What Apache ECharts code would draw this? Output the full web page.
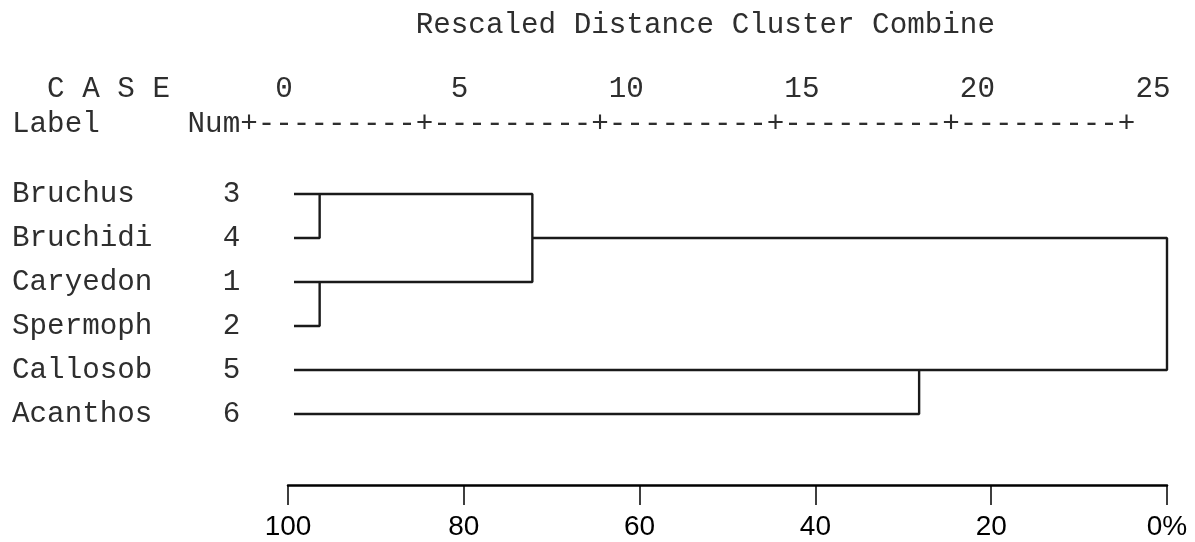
<!DOCTYPE html>
<html>
<head>
<meta charset="utf-8">
<script src="https://cdn.jsdelivr.net/npm/echarts@6/dist/echarts.min.js"></script>
<style>
  html, body { margin: 0; padding: 0; background: #fff; }
  #chart { width: 1195px; height: 542px; }
</style>
</head>
<body>
<div id="chart"></div>
<script>
// ---- data ----
const cases = ['Bruchus', 'Bruchidi', 'Caryedon', 'Spermoph', 'Callosob', 'Acanthos'];
const caseNums = [3, 4, 1, 2, 5, 6];
const titleText = 'Rescaled Distance Cluster Combine';
const topTicks = [0, 5, 10, 15, 20, 25];
const bottomTickLabels = ['100', '80', '60', '40', '20', '0%'];
// rescaled distance where each leaf line begins
const leafStart = 0.17;
// merge steps: row of first cluster, row of second cluster, rescaled distance
const mergeRowA = [0, 2, 0, 4, 1];
const mergeRowB = [1, 3, 2, 5, 4];
const mergeDist = [0.9, 0.9, 6.95, 17.95, 25];

// ---- build ----
const MONO = "'Liberation Mono', 'DejaVu Sans Mono', monospace";
const FS = 29.25;
const TXT = '#2e2e2e';

function placeText(arr, s, col) { for (let i = 0; i < s.length; i++) arr[col + i] = s[i]; }
const line0 = ' '.repeat(23) + titleText;
const l1 = Array(66).fill(' ');
placeText(l1, 'C A S E', 2);
topTicks.forEach(t => { const s = String(t); placeText(l1, s, 15 + 2 * t - s.length + 1); });
const l2 = Array(64).fill(' ');
placeText(l2, 'Label', 0);
placeText(l2, 'Num', 10);
for (let c = 13; c <= 63; c++) l2[c] = ((c - 13) % 10 === 0) ? '+' : '-';
const line1 = l1.join('');
const line2 = l2.join('');

const start = cases.map(() => leafStart);
const series = [];
for (let i = 0; i < mergeDist.length; i++) {
  const a = mergeRowA[i], b = mergeRowB[i], d = mergeDist[i];
  series.push({
    type: 'line',
    symbol: 'none',
    silent: true,
    lineStyle: { color: '#1a1a1a', width: 2.4 },
    data: [[start[a], a], [d, a], [d, b], [start[b], b]]
  });
  const nr = Math.floor((a + b) / 2);
  start[nr] = d;
}

const chart = echarts.init(document.getElementById('chart'));
chart.setOption({
  animation: false,
  backgroundColor: '#ffffff',
  grid: { left: 288, right: 28, top: 172, height: 264 },
  xAxis: {
    type: 'value', min: 0, max: 25, interval: 5,
    position: 'bottom', offset: 49,
    axisLine: { show: true, lineStyle: { color: '#000', width: 2.5 } },
    axisTick: { show: true, length: 20, lineStyle: { color: '#000', width: 1.5 } },
    splitLine: { show: false },
    axisLabel: {
      margin: 28, color: '#000', fontSize: 28, fontFamily: "'Liberation Sans', Arial, sans-serif",
      formatter: v => bottomTickLabels[Math.round(v / 5)]
    }
  },
  yAxis: {
    type: 'category', inverse: true, data: cases,
    axisLine: { show: false }, axisTick: { show: false }, splitLine: { show: false },
    axisLabel: {
      align: 'left', margin: 276, color: TXT, fontSize: FS, fontFamily: MONO,
      formatter: (v, i) => v.padEnd(12, ' ') + String(caseNums[i])
    }
  },
  graphic: [
    { type: 'text', left: 12, top: 28 - FS * 0.6, style: { text: line0, font: FS + 'px ' + MONO, fill: TXT } },
    { type: 'text', left: 12, top: 92 - FS * 0.6, style: { text: line1, font: FS + 'px ' + MONO, fill: TXT } },
    { type: 'text', left: 12, top: 127 - FS * 0.6, style: { text: line2, font: FS + 'px ' + MONO, fill: TXT } }
  ],
  series: series
});
</script>
</body>
</html>
